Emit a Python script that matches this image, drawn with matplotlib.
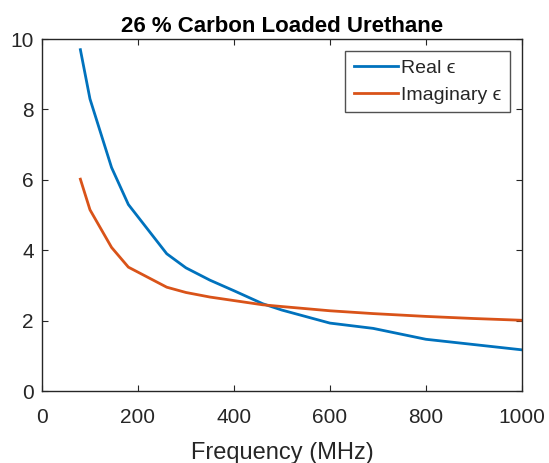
import matplotlib
matplotlib.use("Agg")
import matplotlib.pyplot as plt

freq = [80, 100, 145, 180, 260, 300, 350, 400, 460, 500, 600, 690, 800, 900, 1000]
real_eps = [9.7, 8.3, 6.35, 5.3, 3.9, 3.5, 3.15, 2.85, 2.48, 2.3, 1.93, 1.78, 1.47, 1.32, 1.17]
imag_eps = [6.02, 5.15, 4.08, 3.52, 2.95, 2.8, 2.67, 2.57, 2.45, 2.4, 2.28, 2.2, 2.12, 2.06, 2.01]

plt.rcParams['font.family'] = ['Liberation Sans', 'DejaVu Sans']
fig = plt.figure(figsize=(5.49, 4.63), dpi=100)
ax = fig.add_axes([0.0765, 0.1555, 0.874, 0.760])
ax.plot(freq, real_eps, color='#0072BD', lw=2, label='Real ϵ')
ax.plot(freq, imag_eps, color='#D95319', lw=2, label='Imaginary ϵ')
ax.set_xlim(0, 1000)
ax.set_ylim(0, 10)
ax.set_xticks([0, 200, 400, 600, 800, 1000])
ax.set_yticks([0, 2, 4, 6, 8, 10])
ax.tick_params(direction='in', length=4, labelsize=15, colors='#262626', top=True, right=True,
               labeltop=False, labelright=False)
ax.tick_params(axis='x', pad=12)
ax.tick_params(axis='y', pad=6)
for s in ax.spines.values():
    s.set_color('#262626')
    s.set_linewidth(1.0)
ax.set_xlabel('Frequency (MHz)', fontsize=17, color='#262626', labelpad=11)
ax.set_title('26 % Carbon Loaded Urethane', fontsize=16, fontweight='bold', color='black', pad=5)
leg = ax.legend(loc='upper right', fontsize=14, fancybox=False, edgecolor='#262626',
                handlelength=2.3, borderaxespad=0.6, handletextpad=0.15, borderpad=0.45, labelspacing=0.45)
for t in leg.get_texts():
    t.set_color('#262626')
leg.get_frame().set_linewidth(1.0)
fig.savefig('out.png', dpi=100)
